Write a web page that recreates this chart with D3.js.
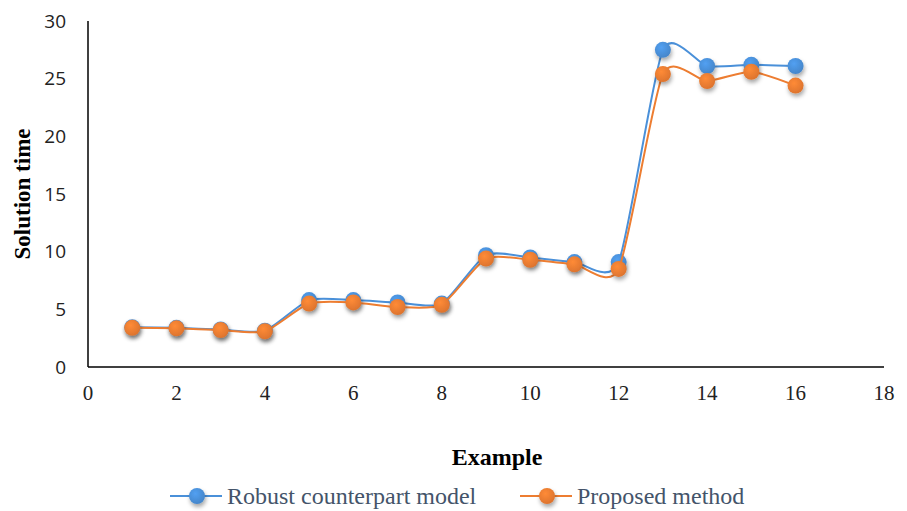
<!DOCTYPE html>
<html>
<head>
<meta charset="utf-8">
<script src="https://cdn.jsdelivr.net/npm/d3@7"></script>
<style>
  body { margin: 0; background: #fff; }
  svg { display: block; }
</style>
</head>
<body>
<svg id="chart" width="907" height="511"></svg>
<script>
// examples 1..16
const examples = [1, 2, 3, 4, 5, 6, 7, 8, 9, 10, 11, 12, 13, 14, 15, 16];
const robust = [3.45, 3.4, 3.25, 3.15, 5.8, 5.8, 5.6, 5.5, 9.7, 9.5, 9.1, 9.1, 27.5, 26.1, 26.2, 26.1];
const proposed = [3.4, 3.35, 3.2, 3.1, 5.5, 5.6, 5.2, 5.4, 9.4, 9.3, 8.9, 8.5, 25.4, 24.8, 25.6, 24.4];
const xTicks = [0, 2, 4, 6, 8, 10, 12, 14, 16, 18];
const yTicks = [0, 5, 10, 15, 20, 25, 30];

const seriesNames = ['Robust counterpart model', 'Proposed method'];
const colors = ['#4a90d9', '#ed7d31'];

const svg = d3.select('#chart');
const margin = { left: 88, right: 23, top: 21, bottom: 144 };
const width = 907, height = 511;

const x = d3.scaleLinear().domain([0, 18]).range([margin.left, width - margin.right]);
const y = d3.scaleLinear().domain([0, 30]).range([height - margin.bottom, margin.top]);

// drop shadow for markers
const defs = svg.append('defs');
const f = defs.append('filter').attr('id', 'shadow')
  .attr('x', '-50%').attr('y', '-50%').attr('width', '200%').attr('height', '200%');
f.append('feDropShadow').attr('dx', 1).attr('dy', 3).attr('stdDeviation', 2)
  .attr('flood-color', '#000').attr('flood-opacity', 0.35);

colors.forEach((c, i) => {
  const g = defs.append('radialGradient').attr('id', 'grad' + i)
    .attr('cx', '40%').attr('cy', '35%').attr('r', '65%');
  g.append('stop').attr('offset', '0%').attr('stop-color', d3.color(c).brighter(0.3));
  g.append('stop').attr('offset', '100%').attr('stop-color', d3.color(c).darker(0.2));
});

// axes
svg.append('line')
  .attr('x1', x(0)).attr('x2', x(0))
  .attr('y1', y(30)).attr('y2', y(0))
  .attr('stroke', '#000').attr('stroke-width', 1.5);
svg.append('line')
  .attr('x1', x(0)).attr('x2', x(18))
  .attr('y1', y(0)).attr('y2', y(0))
  .attr('stroke', '#000').attr('stroke-width', 1.5);

svg.append('g').selectAll('text').data(yTicks).enter().append('text')
  .attr('x', 66)
  .attr('y', d => y(d))
  .attr('dy', '0.35em')
  .attr('text-anchor', 'end')
  .style('font-family', '"Open Sans", "Liberation Sans", sans-serif')
  .style('font-size', '19px')
  .attr('fill', '#222')
  .text(d => d);

svg.append('g').selectAll('text').data(xTicks).enter().append('text')
  .attr('x', d => x(d))
  .attr('y', 400)
  .attr('text-anchor', 'middle')
  .style('font-family', '"Liberation Serif", "Times New Roman", serif')
  .style('font-size', '21px')
  .attr('fill', '#222')
  .text(d => d);

svg.append('text')
  .attr('x', 497).attr('y', 465)
  .attr('text-anchor', 'middle')
  .style('font-family', '"Liberation Serif", serif')
  .style('font-size', '24px')
  .style('font-weight', 'bold')
  .text('Example');

svg.append('text')
  .attr('transform', 'translate(30,194) rotate(-90)')
  .attr('text-anchor', 'middle')
  .style('font-family', '"Liberation Serif", serif')
  .style('font-size', '23px')
  .style('font-weight', 'bold')
  .text('Solution time');

// lines + markers
const line = d3.line()
  .x(d => x(d[0]))
  .y(d => y(d[1]))
  .curve(d3.curveCardinal.tension(0.35));

[robust, proposed].forEach((vals, i) => {
  const pts = examples.map((e, j) => [e, vals[j]]);
  svg.append('path')
    .datum(pts)
    .attr('fill', 'none')
    .attr('stroke', colors[i])
    .attr('stroke-width', 2)
    .attr('d', line);
  svg.append('g').attr('filter', 'url(#shadow)')
    .selectAll('circle').data(pts).enter().append('circle')
    .attr('cx', d => x(d[0]))
    .attr('cy', d => y(d[1]))
    .attr('r', 8)
    .attr('fill', `url(#grad${i})`);
});

// legend
const legendX = [170, 520];
seriesNames.forEach((name, i) => {
  const g = svg.append('g').attr('transform', `translate(${legendX[i]},496)`);
  g.append('line').attr('x1', 0).attr('x2', 52).attr('y1', 0).attr('y2', 0)
    .attr('stroke', colors[i]).attr('stroke-width', 2);
  g.append('circle').attr('cx', 27).attr('cy', 0).attr('r', 8)
    .attr('fill', `url(#grad${i})`).attr('filter', 'url(#shadow)');
  g.append('text').attr('x', 57).attr('y', 0).attr('dy', '0.35em')
    .style('font-family', '"Liberation Serif", serif')
    .style('font-size', '24px')
    .attr('fill', '#44546a')
    .text(name);
});
</script>
</body>
</html>
